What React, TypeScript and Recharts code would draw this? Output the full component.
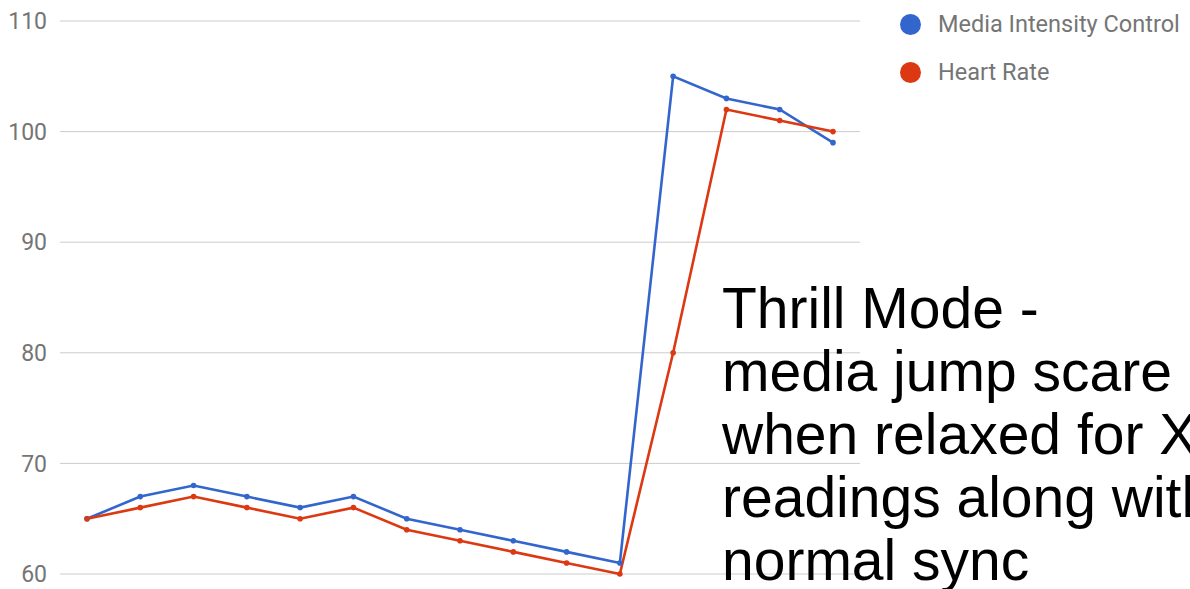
import React from 'react';
import { LineChart, Line, XAxis, YAxis, CartesianGrid } from 'recharts';

const readings = ['1', '2', '3', '4', '5', '6', '7', '8', '9', '10', '11', '12', '13', '14', '15'];
const mediaIntensity = [65, 67, 68, 67, 66, 67, 65, 64, 63, 62, 61, 105, 103, 102, 99];
const heartRate = [65, 66, 67, 66, 65, 66, 64, 63, 62, 61, 60, 80, 102, 101, 100];
const yTicks = [60, 70, 80, 90, 100, 110];
const noteLines = ['Thrill Mode -', 'media jump scare', 'when relaxed for X', 'readings along with', 'normal sync'];

const BLUE = '#3366cc';
const RED = '#dc3912';

const seriesInfo = [
  { key: 'media', name: 'Media Intensity Control', color: BLUE },
  { key: 'heart', name: 'Heart Rate', color: RED },
];

const data = readings.map((r, i) => ({ reading: r, media: mediaIntensity[i], heart: heartRate[i] }));

const LegendBox = () => (
  <div
    style={{
      position: 'absolute',
      left: 900,
      top: 0,
      fontFamily: 'Roboto, sans-serif',
      fontSize: 23.5,
      color: '#757575',
      whiteSpace: 'nowrap',
    }}
  >
    {seriesInfo.map((item) => (
      <div key={item.name} style={{ display: 'flex', alignItems: 'center', height: 48 }}>
        <span
          style={{
            width: 21,
            height: 21,
            borderRadius: '50%',
            background: item.color,
            display: 'inline-block',
            marginRight: 17,
          }}
        />
        <span>{item.name}</span>
      </div>
    ))}
  </div>
);

const App: React.FC = () => (
  <div
    style={{
      position: 'absolute',
      left: 0,
      top: 0,
      width: 1190,
      height: 589,
      overflow: 'hidden',
      background: '#fff',
    }}
  >
    <LineChart width={1190} height={589} data={data} margin={{ top: 21, right: 330, left: 0, bottom: 15 }}>
      <CartesianGrid vertical={false} stroke="#cccccc" />
      <XAxis dataKey="reading" hide padding={{ left: 27, right: 27 }} />
      <YAxis
        domain={[60, 110]}
        ticks={yTicks}
        width={60}
        axisLine={false}
        tickLine={false}
        tickSize={0}
        tickMargin={13}
        tick={{ fill: '#757575', fontSize: 23, fontFamily: 'Roboto, sans-serif' }}
      />
      {seriesInfo.map((s) => (
        <Line
          key={s.key}
          dataKey={s.key}
          name={s.name}
          stroke={s.color}
          strokeWidth={2.6}
          dot={{ r: 2.8, fill: s.color, stroke: s.color, strokeWidth: 0 }}
          isAnimationActive={false}
        />
      ))}
    </LineChart>
    <LegendBox />
    <div
      style={{
        position: 'absolute',
        left: 722,
        top: 277,
        fontFamily: '"Liberation Sans", Arial, sans-serif',
        fontSize: 57,
        lineHeight: '63px',
        color: '#000',
        whiteSpace: 'nowrap',
      }}
    >
      {noteLines.map((l) => (
        <div key={l}>{l}</div>
      ))}
    </div>
  </div>
);

export default App;
